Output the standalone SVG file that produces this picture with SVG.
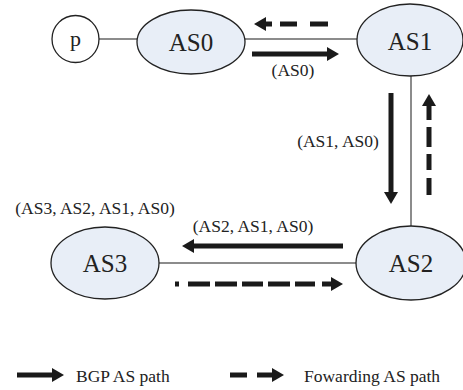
<svg xmlns="http://www.w3.org/2000/svg" width="463" height="390" viewBox="0 0 463 390">
<style>
.node{fill:#e8eef7;stroke:#222;stroke-width:1.3}
.pnode{fill:#fff;stroke:#222;stroke-width:1.3}
.link{stroke:#666;stroke-width:1.5;fill:none}
.arr{stroke:#1a1a1a;stroke-width:5;fill:none;marker-end:url(#ah)}
text{font-family:'Liberation Serif','Times New Roman','DejaVu Serif',serif;fill:#222}
.nt{font-size:25px;text-anchor:middle}
.lt{font-size:17.5px}
</style>
<defs>
<marker id="ah" markerUnits="userSpaceOnUse" markerWidth="12" markerHeight="14" refX="0" refY="7" orient="auto" overflow="visible">
<path d="M0,0 L12,7 L0,14 z" fill="#1a1a1a"/>
</marker>
</defs>
<g id="links">
<line class="link" x1="99" y1="39" x2="137" y2="39"/>
<line class="link" x1="245" y1="39" x2="357" y2="39"/>
<line class="link" x1="411" y1="76" x2="411" y2="226"/>
<line class="link" x1="159" y1="263" x2="356" y2="263"/>
</g>
<g id="connectors">
<line class="arr" x1="252" y1="54" x2="327" y2="54"/>
<line class="arr" x1="328" y1="24" x2="266" y2="24" stroke-dasharray="18 13 17 8 6"/>
<line class="arr" x1="391" y1="93" x2="391" y2="192"/>
<line class="arr" x1="429" y1="195" x2="429" y2="106" stroke-dasharray="17 8 16 7 20 7 15"/>
<line class="arr" x1="343" y1="246" x2="194" y2="246"/>
<line class="arr" x1="175" y1="284" x2="331" y2="284" stroke-dasharray="4 9 22 5 22 5 21 5 22 5 20 7 9"/>
<line class="arr" x1="17" y1="375" x2="52" y2="375" stroke-width="4"/>
<line class="arr" x1="230" y1="375" x2="272" y2="375" stroke-dasharray="17 10 15"/>
</g>
<g id="p">
<circle class="pnode" cx="75.5" cy="39" r="23.5"/>
<text class="nt" x="75.5" y="46" style="font-size:22px">p</text>
</g>
<g id="AS0">
<ellipse class="node" cx="191" cy="42" rx="54" ry="32"/>
<text class="nt" x="191" y="51">AS0</text>
</g>
<g id="AS1">
<ellipse class="node" cx="410" cy="40" rx="53" ry="36"/>
<text class="nt" x="410" y="50">AS1</text>
</g>
<g id="AS2">
<ellipse class="node" cx="411" cy="263" rx="55" ry="37"/>
<text class="nt" x="411" y="272">AS2</text>
</g>
<g id="AS3">
<ellipse class="node" cx="105" cy="263" rx="54" ry="36"/>
<text class="nt" x="105" y="272">AS3</text>
</g>
<g id="labels">
<text class="lt" x="293" y="76" text-anchor="middle">(AS0)</text>
<text class="lt" x="338" y="147" text-anchor="middle">(AS1, AS0)</text>
<text class="lt" x="95" y="214" text-anchor="middle">(AS3, AS2, AS1, AS0)</text>
<text class="lt" x="253" y="232" text-anchor="middle">(AS2, AS1, AS0)</text>
<text class="lt" x="76" y="382">BGP AS path</text>
<text class="lt" x="304" y="382">Fowarding AS path</text>
</g>
</svg>
